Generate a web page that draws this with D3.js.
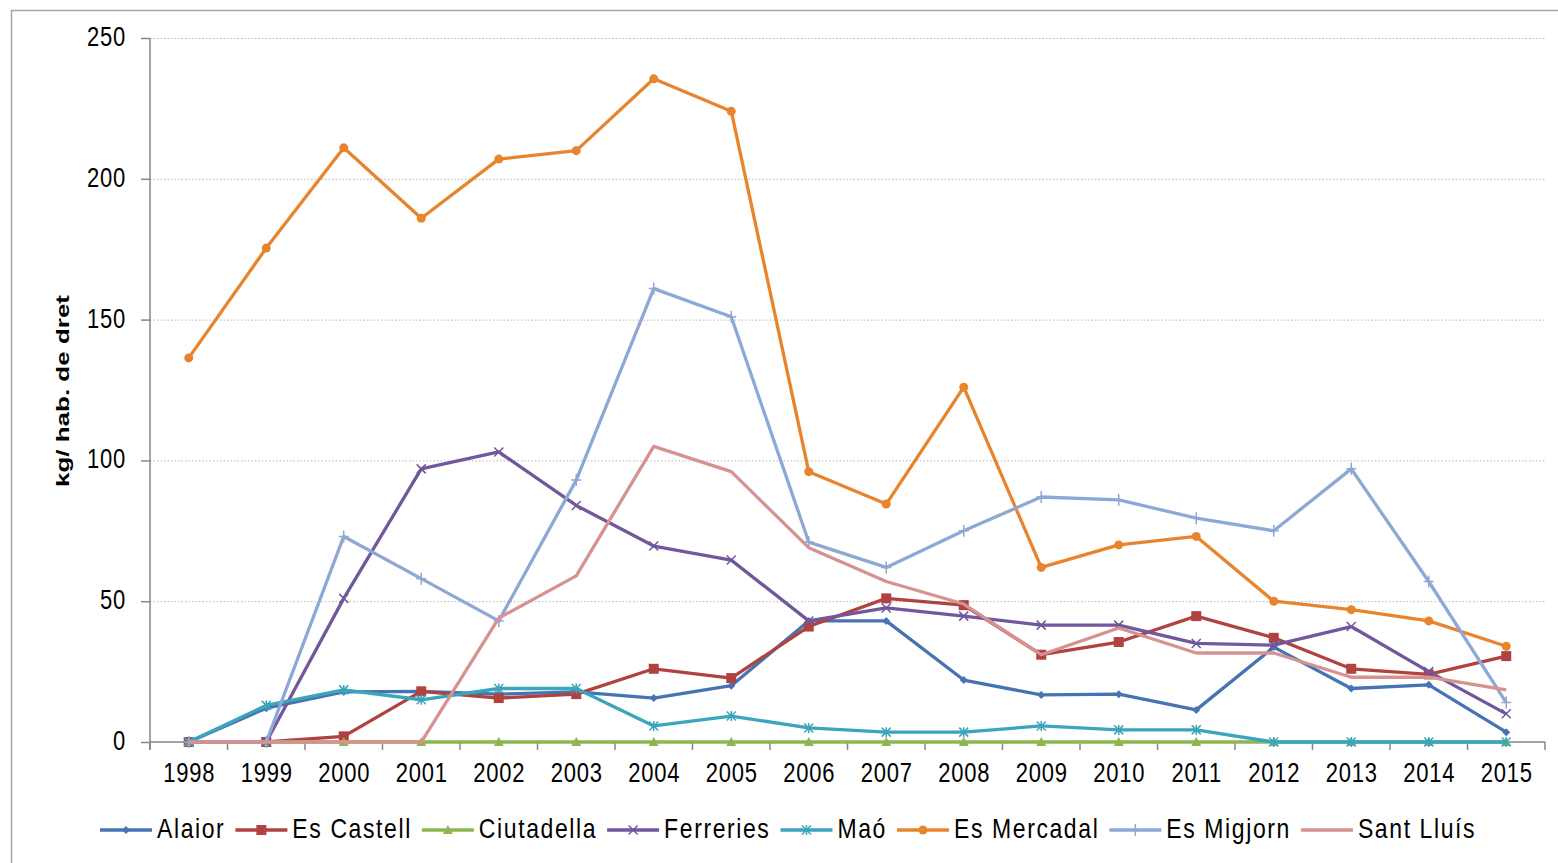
<!DOCTYPE html>
<html>
<head>
<meta charset="utf-8">
<script src="https://cdn.jsdelivr.net/npm/d3@7"></script>
<style>
	body {margin: 0; background: #fff;}
	svg {display: block;}
	text {font-family: "Liberation Sans", Arial, sans-serif; fill: #000;}
</style>
</head>
<body>
<div id="chart"></div>
<script>

//DATA (kg/hab. de dret)
var years = ["1998", "1999", "2000", "2001", "2002", "2003", "2004", "2005", "2006", "2007", "2008", "2009", "2010", "2011", "2012", "2013", "2014", "2015"];
var alaior = [0, 12, 17.8, 18, 17, 17.8, 15.6, 20, 43, 43, 22, 16.7, 17, 11.4, 33.7, 19, 20.3, 3.5];
var esCastell = [0, 0, 2, 18, 15.6, 17, 26, 22.7, 41, 51, 48.6, 31, 35.5, 44.7, 37, 26, 24, 30.5];
var ciutadella = [0, 0, 0, 0, 0, 0, 0, 0, 0, 0, 0, 0, 0, 0, 0, 0, 0, 0];
var ferreries = [0, 0, 51, 97, 103, 84, 69.6, 64.6, 43, 47.6, 44.7, 41.5, 41.5, 35, 34.4, 41, 25, 10];
var mao = [0, 13, 18.5, 15, 19, 19, 5.7, 9.2, 5, 3.5, 3.5, 5.7, 4.3, 4.3, 0, 0, 0, 0];
var esMercadal = [136.4, 175.4, 211, 186, 207, 210, 235.5, 224, 96, 84.5, 126, 62, 70, 73, 50, 47, 43, 34];
var esMigjorn = [0, 0, 73, 58, 43, 93, 161, 151, 71, 62, 75, 87, 86, 79.5, 75, 97, 57, 14];
var santLluis = [0, 0, 0, 0, 44, 59, 105, 96, 69, 57, 49, 31, 40.5, 31.6, 31.6, 23, 23, 18.5];
var yTicks = [0, 50, 100, 150, 200, 250];

var series = [
	{"name": "Alaior", "values": alaior, "color": "#4674B2", "marker": "diamond"},
	{"name": "Es Castell", "values": esCastell, "color": "#B0423F", "marker": "square"},
	{"name": "Ciutadella", "values": ciutadella, "color": "#8DB651", "marker": "triangle"},
	{"name": "Ferreries", "values": ferreries, "color": "#71579C", "marker": "x"},
	{"name": "Maó", "values": mao, "color": "#3AA5BD", "marker": "star"},
	{"name": "Es Mercadal", "values": esMercadal, "color": "#E8842E", "marker": "circle"},
	{"name": "Es Migjorn", "values": esMigjorn, "color": "#8EA8D6", "marker": "plus"},
	{"name": "Sant Lluís", "values": santLluis, "color": "#D59290", "marker": "none"}
];

var WIDTH = 1558;
var HEIGHT = 863;
var LEFT = 150, RIGHT = 1545, TOP = 38, BOTTOM = 742;
var AXIS_COLOR = "#868686";

var svg = d3.select("#chart").append("svg")
	.attr("width", WIDTH)
	.attr("height", HEIGHT);

//CHART BORDER (RUNS OFF THE RIGHT AND BOTTOM)
svg.append("path")
	.attr("d", "M11.5," + HEIGHT + "V10.5H" + WIDTH)
	.attr("fill", "none")
	.attr("stroke", "#a6a6a6")
	.attr("stroke-width", 1.5);

var x = d3.scalePoint().domain(years).range([LEFT, RIGHT]).padding(0.5);
var y = d3.scaleLinear().domain([0, 250]).range([BOTTOM, TOP]);

//TEXT IN THE PICTURE IS STRETCHED VERTICALLY
function label(g, str, px, py, size, anchor, sy, spacing){
	return g.append("text")
		.attr("transform", "translate(" + px + "," + py + ") scale(1," + sy + ")")
		.attr("text-anchor", anchor)
		.style("font-size", size + "px")
		.style("letter-spacing", spacing + "px")
		.text(str);
}

//GRIDLINES
svg.append("g")
	.selectAll("line")
	.data(yTicks.filter(function(t){return t > 0;}))
	.enter().append("line")
	.attr("x1", LEFT)
	.attr("x2", RIGHT)
	.attr("y1", function(d){return y(d) + 0.5;})
	.attr("y2", function(d){return y(d) + 0.5;})
	.attr("stroke", "#b4b4b4")
	.attr("stroke-width", 1)
	.attr("stroke-dasharray", "1.5,2");

//Y AXIS
var yAxis = svg.append("g")
	.attr("transform", "translate(" + LEFT + ",0)")
	.call(d3.axisLeft(y).tickValues(yTicks).tickSize(9).tickFormat(""));
yAxis.select(".domain").attr("d", "M0," + TOP + "V" + (BOTTOM + 8));
yAxis.selectAll("path, line").attr("stroke", AXIS_COLOR).attr("stroke-width", 1.5);
yTicks.forEach(function(t){
	label(svg, "" + t, 126, y(t) + 8, 22, "end", 1.25, 0.8);
});

//X AXIS, TICKS BETWEEN CATEGORIES
var step = x.step();
var xAxis = svg.append("g")
	.attr("transform", "translate(0," + BOTTOM + ")")
	.call(d3.axisBottom(x).tickSize(0).tickFormat(""));
xAxis.select(".domain").attr("d", "M" + LEFT + ",0H" + RIGHT);
xAxis.selectAll("path").attr("stroke", AXIS_COLOR).attr("stroke-width", 1.5);
xAxis.selectAll(".sep")
	.data(d3.range(years.length + 1))
	.enter().append("line")
	.attr("x1", function(i){return LEFT + i * step;})
	.attr("x2", function(i){return LEFT + i * step;})
	.attr("y1", 0)
	.attr("y2", 8)
	.attr("stroke", AXIS_COLOR)
	.attr("stroke-width", 1.5);
years.forEach(function(yr){
	label(svg, yr, x(yr) + 0.5, 782, 22, "middle", 1.22, 0.8);
});

//Y AXIS TITLE
svg.append("text")
	.attr("transform", "translate(69,391) rotate(-90)")
	.attr("text-anchor", "middle")
	.attr("textLength", 192)
	.attr("lengthAdjust", "spacingAndGlyphs")
	.style("font-size", "19px")
	.style("font-weight", "bold")
	.text("kg/ hab. de dret");

//MARKER SHAPES
function marker(g, type, color){
	var s = 4.5;
	if (type == "diamond") {
		g.append("path").attr("d", "M0,-4L4,0L0,4L-4,0Z").attr("fill", color);
	} else if (type == "square") {
		g.append("rect").attr("x", -5).attr("y", -5).attr("width", 10).attr("height", 10).attr("fill", color);
	} else if (type == "triangle") {
		g.append("path").attr("d", "M0,-5L5,4L-5,4Z").attr("fill", color);
	} else if (type == "circle") {
		g.append("circle").attr("r", 4.5).attr("fill", color);
	} else if (type == "x") {
		g.append("path").attr("d", "M-" + s + ",-" + s + "L" + s + "," + s + "M" + s + ",-" + s + "L-" + s + "," + s)
			.attr("stroke", color).attr("stroke-width", 1.5).attr("fill", "none");
	} else if (type == "star") {
		g.append("path").attr("d", "M-" + s + ",-" + s + "L" + s + "," + s + "M" + s + ",-" + s + "L-" + s + "," + s + "M0,-5V5")
			.attr("stroke", color).attr("stroke-width", 1.5).attr("fill", "none");
	} else if (type == "plus") {
		g.append("path").attr("d", "M0,-6V6M-5,0H5")
			.attr("stroke", color).attr("stroke-width", 1.5).attr("fill", "none");
	}//endif
}

//SERIES LINES AND MARKERS
var line = d3.line()
	.x(function(d, i){return x(years[i]);})
	.y(function(d){return y(d);});

series.forEach(function(s){
	var g = svg.append("g");
	g.append("path")
		.attr("d", line(s.values))
		.attr("fill", "none")
		.attr("stroke", s.color)
		.attr("stroke-width", 3.3)
		.attr("stroke-linejoin", "round");
	if (s.marker != "none") {
		s.values.forEach(function(v, i){
			var m = g.append("g").attr("transform", "translate(" + x(years[i]) + "," + y(v) + ")");
			marker(m, s.marker, s.color);
		});
	}//endif
});

//LEGEND
var legend = svg.append("g");
var lx = 100;
var LY = 830;
series.forEach(function(s){
	legend.append("line")
		.attr("x1", lx).attr("x2", lx + 52)
		.attr("y1", LY).attr("y2", LY)
		.attr("stroke", s.color)
		.attr("stroke-width", 3.3);
	if (s.marker != "none") {
		var m = legend.append("g").attr("transform", "translate(" + (lx + 26) + "," + LY + ")");
		marker(m, s.marker, s.color);
	}//endif
	var t = label(legend, s.name, lx + 57, LY + 8, 23, "start", 1.22, 1.6);
	lx += 57 + t.node().getComputedTextLength() + 10;
});

</script>
</body>
</html>
